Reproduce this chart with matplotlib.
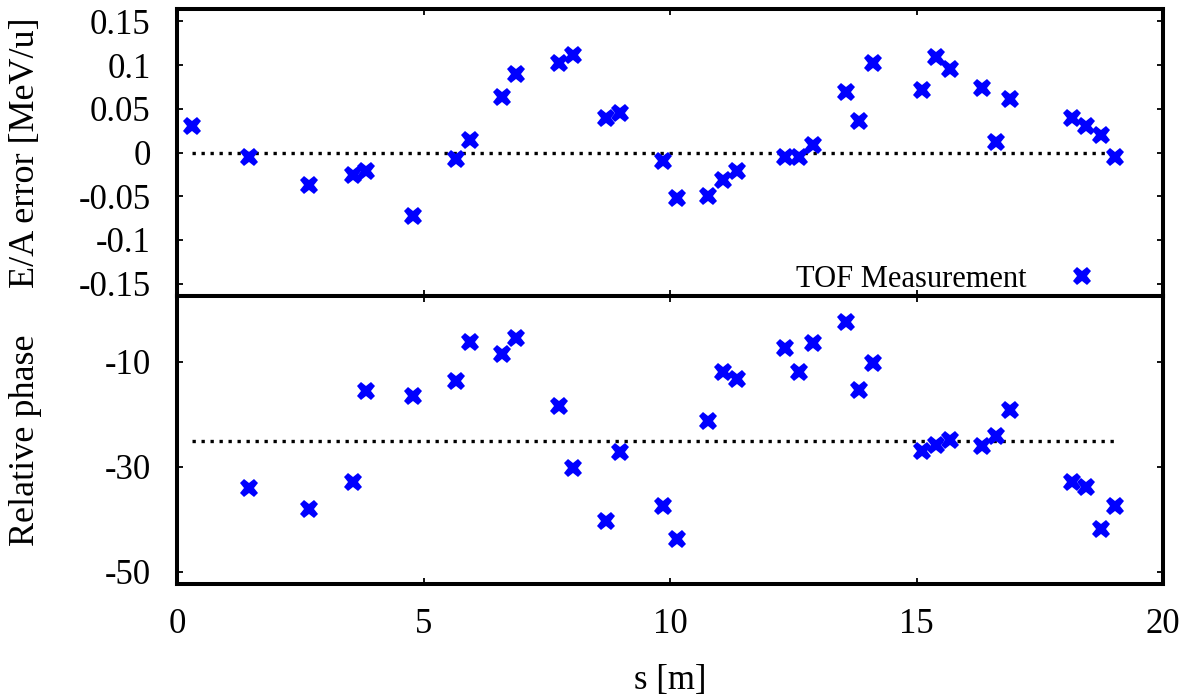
import matplotlib
matplotlib.use("Agg")
import matplotlib.pyplot as plt
from matplotlib.ticker import FuncFormatter

# ---- data ----
s_energy = [0.30, 1.46, 2.68, 3.56, 3.84, 4.78, 5.65, 5.94, 6.60, 6.88,
            7.75, 8.03, 8.70, 8.98, 9.86, 10.14, 10.78, 11.07, 11.35, 12.33,
            12.62, 12.90, 13.56, 13.84, 14.12, 15.11, 15.40, 15.67, 16.33, 16.61,
            16.90, 18.16, 18.44, 18.74, 19.02]
energy_error = [0.0306, -0.0046, -0.037, -0.026, -0.021, -0.0725, -0.0076, 0.0145, 0.064, 0.090,
                0.102, 0.112, 0.040, 0.0447, -0.0095, -0.052, -0.050, -0.0316, -0.0213, -0.0057,
                -0.0057, 0.0085, 0.0687, 0.0355, 0.102, 0.0714, 0.1088, 0.0958, 0.074, 0.0123,
                0.0615, 0.039, 0.0298, 0.0195, -0.0046]

s_phase = [1.46, 2.68, 3.56, 3.84, 4.78, 5.65, 5.94, 6.60, 6.88, 7.75,
           8.03, 8.70, 8.98, 9.86, 10.14, 10.78, 11.07, 11.35, 12.33, 12.62,
           12.90, 13.56, 13.84, 14.12, 15.11, 15.40, 15.67, 16.33, 16.61, 16.90,
           18.16, 18.44, 18.74, 19.02]
rel_phase = [-34.0, -38.1, -32.8, -15.6, -16.5, -13.7, -6.2, -8.6, -5.5, -18.4,
             -30.3, -40.4, -27.1, -37.4, -43.7, -21.2, -12.0, -13.2, -7.4, -12.0,
             -6.4, -2.4, -15.4, -10.3, -27.0, -25.8, -24.9, -26.1, -24.2, -19.1,
             -32.9, -33.8, -41.8, -37.4]

design_s = [0.30, 19.02]
design_energy = [0.0, 0.0]
design_phase = [-25.0, -25.0]

energy_ticks = [-0.15, -0.1, -0.05, 0, 0.05, 0.1, 0.15]
phase_ticks = [-50, -30, -10]
s_ticks = [0, 5, 10, 15, 20]

legend_label = "TOF Measurement"

# ---- style ----
plt.rcParams['font.family'] = ['Liberation Serif', 'DejaVu Serif']
plt.rcParams['axes.unicode_minus'] = False
TICK_FS = 25
LABEL_FS = 26
LEG_FS = 22
BLUE = '#0000ff'

fig = plt.figure(figsize=(11.97, 6.96), dpi=100)
L, R = 177 / 1197, 1163 / 1197
y_top, y_mid, y_bot = 1 - 9 / 696, 1 - 296 / 696, 1 - 584 / 696
ax1 = fig.add_axes([L, y_mid, R - L, y_top - y_mid])
ax2 = fig.add_axes([L, y_bot, R - L, y_mid - y_bot])

fmt = FuncFormatter(lambda v, p: "%g" % round(v, 6))

for ax in (ax1, ax2):
    for sp in ax.spines.values():
        sp.set_linewidth(2.9)
    ax.tick_params(direction='in', length=4, width=1.3, top=True, right=True,
                   labelsize=TICK_FS)
    ax.tick_params(axis='y', pad=19)
    ax.set_xlim(0, 20)
    ax.set_xticks(s_ticks)

# top panel
ax1.plot(design_s, design_energy, color='black', lw=2.4, dashes=(1, 1.7),
         dash_capstyle='butt')
ax1.plot(s_energy, energy_error, linestyle='none', marker='X', ms=13,
         color=BLUE, markeredgewidth=0, label=legend_label)
ax1.set_ylim(-0.164, 0.164)
ax1.set_yticks(energy_ticks)
ax1.yaxis.set_major_formatter(fmt)
ax1.tick_params(labelbottom=False)
ax1.set_ylabel("E/A error [MeV/u]", fontsize=LABEL_FS)
ax1.yaxis.set_label_coords(-0.137, 0.5)
leg = ax1.legend(loc='center right', bbox_to_anchor=(0.936, 0.058), frameon=False,
                 markerfirst=False, fontsize=LEG_FS, handletextpad=1.2,
                 handlelength=1.2, borderpad=0, borderaxespad=0)

# bottom panel
ax2.plot(design_s, design_phase, color='black', lw=2.4, dashes=(1, 1.7),
         dash_capstyle='butt')
ax2.plot(s_phase, rel_phase, linestyle='none', marker='X', ms=13,
         color=BLUE, markeredgewidth=0)
ax2.set_ylim(-52.3, 2.5)
ax2.set_yticks(phase_ticks)
ax2.yaxis.set_major_formatter(fmt)
ax2.set_ylabel("Relative phase", fontsize=LABEL_FS)
ax2.yaxis.set_label_coords(-0.137, 0.5)
ax2.set_xlabel("s [m]", fontsize=LABEL_FS - 1)
ax2.xaxis.label.set_va('center')
ax2.xaxis.set_label_coords(0.5, -0.335)
ax2.tick_params(axis='x', pad=17)

fig.savefig("out.png", dpi=100)
